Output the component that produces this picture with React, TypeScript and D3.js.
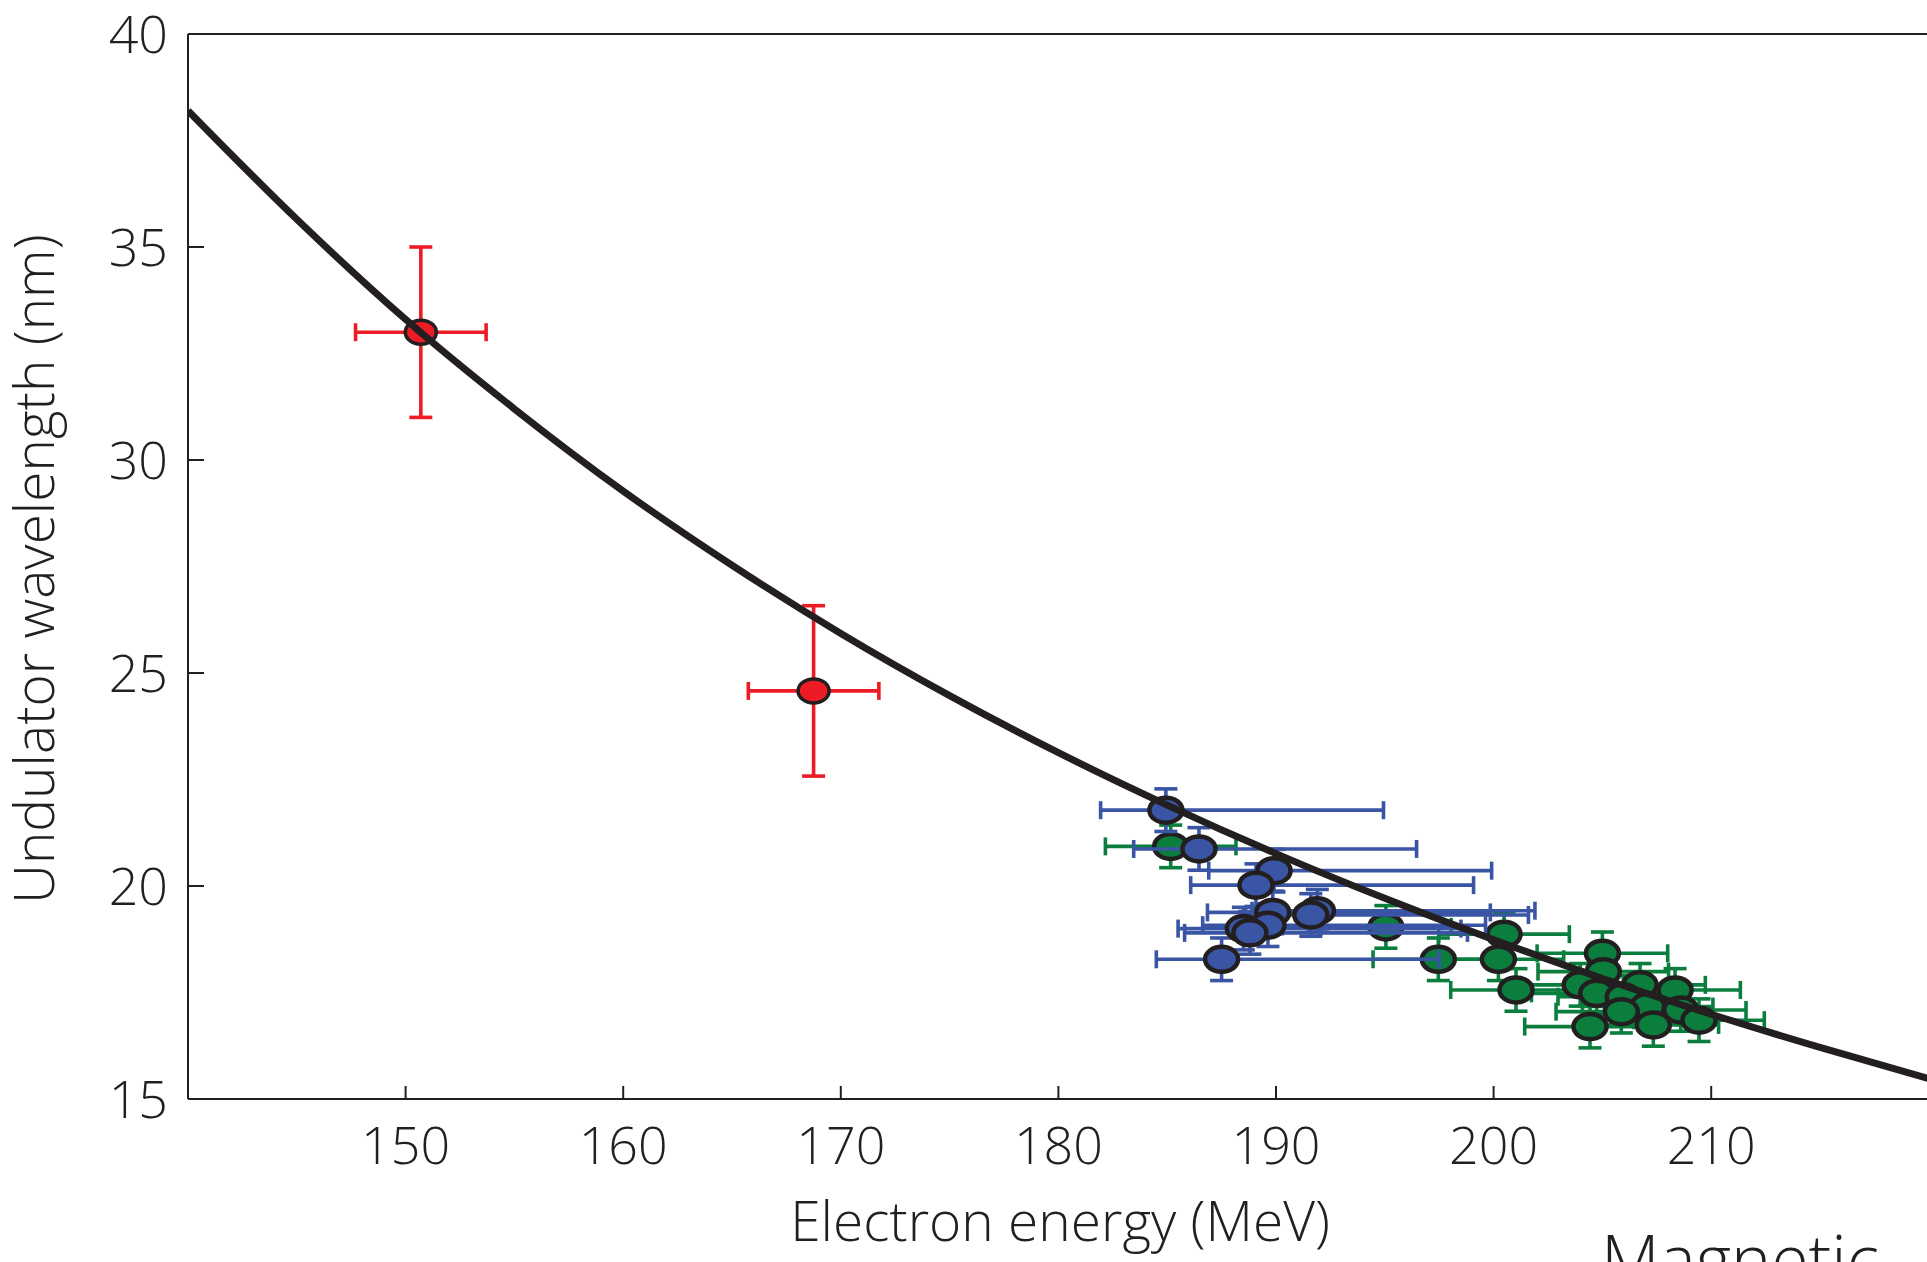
import * as d3 from 'd3';

// [energy MeV, wavelength nm, energy err low, energy err high, wavelength err]
const redPoints: number[][] = [
  [150.7, 33.0, 3, 3, 2],
  [168.75, 24.58, 3, 3, 2],
];

const bluePoints: number[][] = [
  [184.94, 21.78, 3, 10, 0.5],
  [186.46, 20.87, 3, 10, 0.5],
  [189.91, 20.36, 3, 10, 0.5],
  [189.08, 20.02, 3, 10, 0.5],
  [189.85, 19.38, 3, 10, 0.5],
  [191.9, 19.42, 3, 10, 0.5],
  [191.6, 19.32, 3, 10, 0.5],
  [189.63, 19.08, 3, 10, 0.5],
  [188.5, 19.0, 3, 10, 0.5],
  [188.8, 18.9, 3, 10, 0.5],
  [187.5, 18.28, 3, 10, 0.5],
];

const greenPoints: number[][] = [
  [185.16, 20.93, 3, 3, 0.5],
  [195.05, 19.04, 3, 3, 0.5],
  [197.46, 18.28, 3, 3, 0.5],
  [200.48, 18.87, 3, 3, 0.5],
  [200.22, 18.28, 3, 3, 0.5],
  [201.03, 17.56, 3, 3, 0.5],
  [205.0, 18.42, 3, 3, 0.5],
  [205.04, 17.99, 3, 3, 0.5],
  [203.98, 17.68, 3, 3, 0.5],
  [206.73, 17.68, 3, 3, 0.5],
  [208.34, 17.56, 3, 3, 0.5],
  [204.74, 17.48, 3, 3, 0.5],
  [205.96, 17.4, 3, 3, 0.5],
  [207.08, 17.17, 3, 3, 0.5],
  [205.87, 17.05, 3, 3, 0.5],
  [208.6, 17.09, 3, 3, 0.5],
  [209.44, 16.85, 3, 3, 0.5],
  [204.43, 16.7, 3, 3, 0.5],
  [207.34, 16.74, 3, 3, 0.5],
];

// theory curve
const curveEnergy = [140, 145, 150, 155, 160, 165, 170, 175, 180, 185, 190, 195, 200, 205, 210, 215, 220];
const curveWavelength = [38.2, 35.65, 33.3, 31.2, 29.27, 27.53, 25.93, 24.47, 23.13, 21.9, 20.76, 19.71, 18.74, 17.83, 16.99, 16.21, 15.48];

const xTicks = [150, 160, 170, 180, 190, 200, 210];
const yTicks = [15, 20, 25, 30, 35, 40];

const INK = '#231F20';
const FONT = '"Open Sans", sans-serif';

function Series({ points, color, x, y, rx, ry, sw }) {
  const capX = 9;
  const capY = 11.5;
  return (
    <g>
      {points.map((p, i) => {
        const cx = x(p[0]);
        const cy = y(p[1]);
        const x0 = x(p[0] - p[2]);
        const x1 = x(p[0] + p[3]);
        const y0 = y(p[1] + p[4]);
        const y1 = y(p[1] - p[4]);
        return (
          <g key={i} stroke={color} strokeWidth={3.6} fill="none">
            <line x1={x0} x2={x1} y1={cy} y2={cy} />
            <line x1={x0} x2={x0} y1={cy - capX} y2={cy + capX} />
            <line x1={x1} x2={x1} y1={cy - capX} y2={cy + capX} />
            <line x1={cx} x2={cx} y1={y0} y2={y1} />
            <line x1={cx - capY} x2={cx + capY} y1={y0} y2={y0} />
            <line x1={cx - capY} x2={cx + capY} y1={y1} y2={y1} />
          </g>
        );
      })}
      {points.map((p, i) => (
        <ellipse key={'m' + i} cx={x(p[0])} cy={y(p[1])} rx={rx} ry={ry}
          fill={color} stroke={INK} strokeWidth={sw} />
      ))}
    </g>
  );
}

export default function App() {
  const W = 1927;
  const H = 1262;
  const left = 188;
  const top = 34;
  const bottom = 1099;

  const x = d3.scaleLinear().domain([140, 220]).range([left, left + 80 * 21.76]);
  const y = d3.scaleLinear().domain([15, 40]).range([bottom, top]);

  const line = d3.line<number>()
    .x((_, i) => x(curveEnergy[i]))
    .y(d => y(d))
    .curve(d3.curveMonotoneX);

  return (
    <div style={{ position: 'absolute', left: 0, top: 0 }}>
      <svg width={W} height={H} style={{ display: 'block', background: '#fff' }}>
        <defs>
          <clipPath id="plot">
            <rect x={left} y={top} width={W - left} height={bottom - top} />
          </clipPath>
        </defs>

        {/* frame */}
        <g stroke={INK} strokeWidth={2} fill="none">
          <line x1={left} x2={W} y1={top} y2={top} />
          <line x1={left} x2={W} y1={bottom} y2={bottom} />
          <line x1={left} x2={left} y1={top} y2={bottom} />
          {xTicks.map(t => (
            <line key={t} x1={x(t)} x2={x(t)} y1={bottom} y2={bottom - 13} />
          ))}
          {yTicks.filter(t => t > 15 && t < 40).map(t => (
            <line key={t} x1={left} x2={left + 16} y1={y(t)} y2={y(t)} />
          ))}
        </g>

        <g fontFamily={FONT} fontWeight={300} fill={INK}>
          <g fontSize={52}>
            {xTicks.map(t => (
              <text key={t} x={x(t)} y={1164} textAnchor="middle">{t}</text>
            ))}
            {yTicks.map(t => (
              <text key={t} x={168} y={y(t)} dy="0.36em" textAnchor="end">{t}</text>
            ))}
          </g>
          <g fontSize={55}>
            <text x={1060} y={1241} textAnchor="middle">Electron energy (MeV)</text>
            <text transform="translate(54,569) rotate(-90)" textAnchor="middle">Undulator wavelength (nm)</text>
          </g>
          <text x={1601} y={1284} fontSize={68}>Magnetic</text>
        </g>

        <g clipPath="url(#plot)">
          <Series points={greenPoints} color="#0B7E3E" x={x} y={y} rx={16.5} ry={12.5} sw={4.5} />
          <Series points={bluePoints} color="#3A55A4" x={x} y={y} rx={16.5} ry={12.5} sw={4.5} />
          <Series points={redPoints} color="#ED1C24" x={x} y={y} rx={15.5} ry={12} sw={3.5} />
          <path d={line(curveWavelength) || ''} fill="none" stroke={INK} strokeWidth={7} />
        </g>
      </svg>
    </div>
  );
}
